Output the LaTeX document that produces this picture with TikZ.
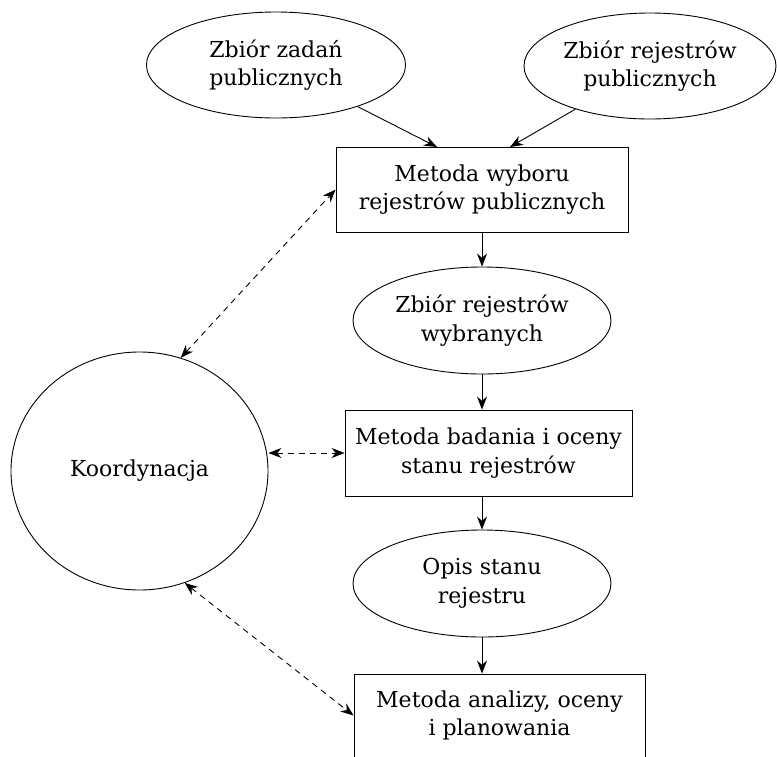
\documentclass[tikz,border=0pt]{standalone}
\usepackage{fontspec}
\setmainfont{DejaVu Serif}
\usetikzlibrary{arrows.meta,shapes.geometric}
\begin{document}
\begin{tikzpicture}[x=1pt,y=-1pt,
  font=\fontsize{22}{28.5}\selectfont,
  ell/.style={ellipse, draw, line width=0.9pt, inner sep=0pt, align=center},
  boxn/.style={rectangle, draw, line width=0.9pt, inner sep=0pt, align=center},
  arr/.style={-{Stealth[length=13pt,width=10pt]}, line width=0.9pt},
  darr/.style={{Stealth[length=13pt,width=10pt]}-{Stealth[length=13pt,width=10pt]}, dash pattern=on 6pt off 5pt, line width=0.9pt}]
\useasboundingbox (0,0) rectangle (777,756);

\node[ell, minimum width=259pt, minimum height=106pt] (e1) at (276,65) {Zbiór zadań\\publicznych};
\node[ell, minimum width=252pt, minimum height=106pt] (e2) at (650,66) {Zbiór rejestrów\\publicznych};
\node[boxn, minimum width=292pt, minimum height=85pt] (b1) at (482,189.5) {Metoda wyboru\\rejestrów publicznych};
\node[ell, minimum width=258pt, minimum height=107pt] (e3) at (482,320.5) {Zbiór rejestrów\\wybranych};
\node[boxn, minimum width=287pt, minimum height=86pt] (b2) at (488.5,453) {Metoda badania i oceny\\stanu rejestrów};
\node[ell, minimum width=258pt, minimum height=107pt] (e4) at (482,583.5) {Opis stanu\\rejestru};
\node[boxn, minimum width=291pt, minimum height=83pt] (b3) at (499.5,715.5) {Metoda analizy, oceny\\i planowania};
\node[ell, minimum width=257pt, minimum height=238pt] (k) at (139.5,471) {Koordynacja};

\coordinate (t1) at (437,147);
\coordinate (t2) at (510,147);

\draw[arr] (e1) -- (t1);
\draw[arr] (e2) -- (t2);
\draw[arr] (b1) -- (e3);
\draw[arr] (e3.south) -- (e3.south |- b2.north);
\draw[arr] (b2.south -| e4.north) -- (e4.north);
\draw[arr] (e4.south) -- (e4.south |- b3.north);

\draw[darr] (k.70) -- (b1.west);
\draw[darr] (b2.west -| k.east) -- (b2.west);
\draw[darr] (k.-68) -- (b3.west);
\end{tikzpicture}
\end{document}
